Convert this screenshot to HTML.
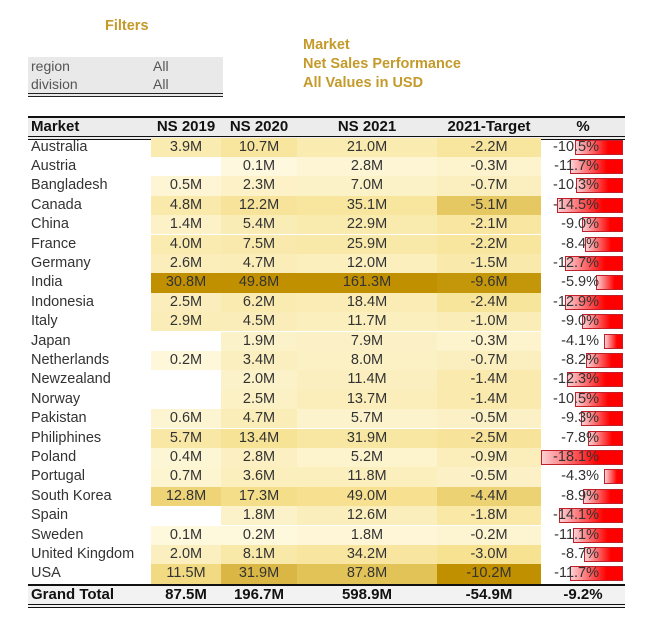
<!DOCTYPE html>
<html><head><meta charset="utf-8">
<style>
body{margin:0;width:650px;height:637px;background:#fff;font-family:"Liberation Sans",sans-serif;position:relative;overflow:hidden}
.gold{color:#c49a2a;font-weight:bold;font-size:14.5px;position:absolute}
#filters{position:absolute;left:28px;top:57px;width:195px;height:36px;background:#e9e9e9;border-bottom:4px double #222;font-size:14px;color:#555}
#filters div{position:absolute;left:3px}
#tbl{position:absolute;left:28px;top:116px;width:597px}
.row{position:absolute;left:0;width:597px;height:19.4px;font-size:14.5px;color:#333}
.c{position:absolute;top:0;height:100%;text-align:center;line-height:19.4px;white-space:nowrap}
</style></head><body>
<div class="gold" style="left:105px;top:18px">Filters</div>
<div id="filters">
<div style="top:1px">region<span style="position:absolute;left:122px">All</span></div>
<div style="top:19px">division<span style="position:absolute;left:122px">All</span></div>
</div>
<div class="gold" style="left:303px;top:37px">Market</div>
<div class="gold" style="left:303px;top:56px">Net Sales Performance</div>
<div class="gold" style="left:303px;top:75px">All Values in USD</div>
<div id="tbl"></div>
<script>
const markets=["Australia","Austria","Bangladesh","Canada","China","France","Germany","India","Indonesia","Italy","Japan","Netherlands","Newzealand","Norway","Pakistan","Philiphines","Poland","Portugal","South Korea","Spain","Sweden","United Kingdom","USA"];
const ns2019=[3.9,null,0.5,4.8,1.4,4.0,2.6,30.8,2.5,2.9,null,0.2,null,null,0.6,5.7,0.4,0.7,12.8,null,0.1,2.0,11.5];
const ns2020=[10.7,0.1,2.3,12.2,5.4,7.5,4.7,49.8,6.2,4.5,1.9,3.4,2.0,2.5,4.7,13.4,2.8,3.6,17.3,1.8,0.2,8.1,31.9];
const ns2021=[21.0,2.8,7.0,35.1,22.9,25.9,12.0,161.3,18.4,11.7,7.9,8.0,11.4,13.7,5.7,31.9,5.2,11.8,49.0,12.6,1.8,34.2,87.8];
const target=[-2.2,-0.3,-0.7,-5.1,-2.1,-2.2,-1.5,-9.6,-2.4,-1.0,-0.3,-0.7,-1.4,-1.4,-0.5,-2.5,-0.9,-0.5,-4.4,-1.8,-0.2,-3.0,-10.2];
const pct=[-10.5,-11.7,-10.3,-14.5,-9.0,-8.4,-12.7,-5.9,-12.9,-9.0,-4.1,-8.2,-12.3,-10.5,-9.3,-7.8,-18.1,-4.3,-8.9,-14.1,-11.1,-8.7,-11.7];
const totals=["87.5M","196.7M","598.9M","-54.9M","-9.2%"];
const headers=["Market","NS 2019","NS 2020","NS 2021","2021-Target","%"];
const cols=[[0,123],[123,70],[193,76],[269,140],[409,104],[513,84]];
const RH=19.4,T0=21.5;
const tbl=document.getElementById('tbl');
function lerp(a,b,t){return Math.round(a+(b-a)*t)}
function heat(t){t=Math.pow(Math.max(0,Math.min(1,t)),0.55);
 const s=[[255,250,228],[246,224,140],[192,144,0]];
 let a,b,u; if(t<0.55){a=s[0];b=s[1];u=t/0.55}else{a=s[1];b=s[2];u=(t-0.55)/0.45}
 return `rgb(${lerp(a[0],b[0],u)},${lerp(a[1],b[1],u)},${lerp(a[2],b[2],u)})`;}
function cell(parent,ci,txt,style){const d=document.createElement('div');d.className='c';d.style.left=cols[ci][0]+'px';d.style.width=cols[ci][1]+'px';d.textContent=txt;if(style)Object.assign(d.style,style);parent.appendChild(d);return d;}
const hd=document.createElement('div');hd.className='row';


Object.assign(hd.style,{top:'0px',height:'18px',background:'#ececec',borderTop:'2px solid #111',borderBottom:'4px double #111',fontWeight:'bold',color:'#111',fontSize:'15px'});
headers.forEach((h,i)=>{const d=cell(hd,i,h,{lineHeight:'18px'});if(i==0){d.style.textAlign='left';d.style.paddingLeft='3px'}

});
tbl.appendChild(hd);
const mx=[Math.max(...ns2019.filter(v=>v!=null)),Math.max(...ns2020),Math.max(...ns2021),Math.max(...target.map(Math.abs))];
const pmax=Math.max(...pct.map(Math.abs));
markets.forEach((m,i)=>{
 const r=document.createElement('div');r.className='row';r.style.top=(T0+i*RH)+'px';
 
 
 const n=cell(r,0,m,{textAlign:'left',paddingLeft:'3px'});
 
 
 [ns2019[i],ns2020[i],ns2021[i],target[i]].forEach((v,k)=>{
  const d=cell(r,k+1,v==null?'':v.toFixed(1)+'M',{background:v==null?'#fff':heat(Math.abs(v)/mx[k])});
  
  
 });
 const bw=Math.abs(pct[i])/pmax*82;
 const bar=document.createElement('div');
 
 
 Object.assign(bar.style,{position:'absolute',top:'2px',height:'15px',left:(595-bw)+'px',width:bw+'px',boxSizing:'border-box',border:'1px solid #c0202a',background:'linear-gradient(to right,#fbd0d4,#f00 70%)'});
 r.appendChild(bar);
 const p=document.createElement('div');
 
 
 Object.assign(p.style,{position:'absolute',top:'0',right:'26px',lineHeight:RH+'px'});
 p.textContent=pct[i].toFixed(1)+'%';r.appendChild(p);
 tbl.appendChild(r);
});
const tr=document.createElement('div');tr.className='row';


Object.assign(tr.style,{top:(T0+23*RH)+'px',height:'18px',background:'#f2f2f2',borderTop:'2px solid #111',borderBottom:'4px double #111',fontWeight:'bold',color:'#111',fontSize:'15px'});
cell(tr,0,'Grand Total',{textAlign:'left',paddingLeft:'3px',lineHeight:'18px'});
totals.forEach((t,k)=>cell(tr,k+1,t,{lineHeight:'18px'}));
tbl.appendChild(tr);
</script>
</body></html>
